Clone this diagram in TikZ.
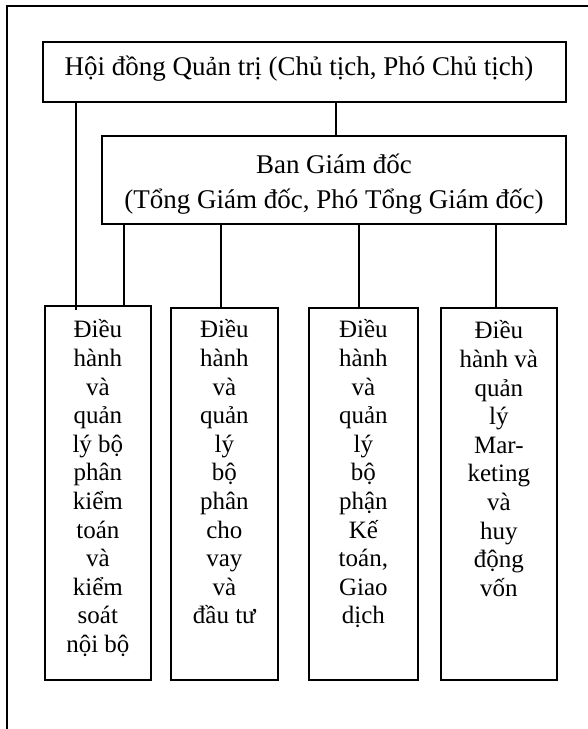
\documentclass[tikz,border=0pt]{standalone}
\usepackage{fontspec}
\setmainfont{Liberation Serif}
\newcommand\celltext[4]{%
  \parbox[c][#2][t]{#1}{\centering\fontsize{25pt}{28.6pt}\selectfont\rule{0pt}{#3}#4}}
\begin{document}
\begin{tikzpicture}[x=1pt,y=-1pt,
  frame/.style={line width=1.8pt, line cap=rect},
  box/.style={draw, line width=1.7pt, inner sep=0pt, rectangle},
  conn/.style={line width=2.6pt},
  unit/.style={box, anchor=north west}]
\useasboundingbox (0,0) rectangle (587,729);

% cell border (top and left)
\draw[frame] (7,729) -- (7,6) -- (590,6);

% board of directors
\node[box, minimum width=523pt, minimum height=60pt, text height=20pt, text depth=14pt,
      font=\fontsize{27pt}{30pt}\selectfont]
  (hdqt) at (304.5,72) {Hội đồng Quản trị (Chủ tịch, Phó Chủ tịch)\kern11pt};

% executive board
\node[box, minimum width=464pt, minimum height=88pt, align=center,
      font=\fontsize{27pt}{35pt}\selectfont]
  (bgd) at (334,180) {\rule{0pt}{29pt}Ban Giám đốc\\(Tổng Giám đốc, Phó Tổng Giám đốc)\rule[-7pt]{0pt}{7pt}};

% departments
\node[unit] (b1) at (44,305)
  {\celltext{106pt}{374pt}{32pt}{Điều\\hành\\và\\quản\\lý bộ\\phân\\kiểm\\toán\\và\\kiểm\\soát\\nội bộ}};
\node[unit] (b2) at (170,307)
  {\celltext{107pt}{372pt}{30pt}{Điều\\hành\\và\\quản\\lý\\bộ\\phân\\cho\\vay\\và\\đầu tư}};
\node[unit] (b3) at (308,307)
  {\celltext{109pt}{372pt}{30pt}{Điều\\hành\\và\\quản\\lý\\bộ\\phận\\Kế\\toán,\\Giao\\dịch}};
\node[unit] (b4) at (440,307)
  {\celltext{116pt}{372pt}{31pt}{Điều\\hành và\\quản\\lý\\Mar-\\keting\\và\\huy\\động\\vốn}};

% connector columns
\coordinate (c0) at (76,0);
\coordinate (cb) at (336,0);
\coordinate (c1) at (124,0);
\coordinate (c2) at (221,0);
\coordinate (c3) at (359,0);
\coordinate (c4) at (496,0);

\draw[conn, shorten >=-5pt] (c0 |- hdqt.south) -- (c0 |- b1.north);
\draw[conn] (cb |- hdqt.south) -- (cb |- bgd.north);
\draw[conn, shorten >=-2pt] (c1 |- bgd.south) -- (c1 |- b1.north);
\draw[conn, shorten >=-1pt] (c2 |- bgd.south) -- (c2 |- b2.north);
\draw[conn, shorten >=-1pt] (c3 |- bgd.south) -- (c3 |- b3.north);
\draw[conn, shorten >=-1pt] (c4 |- bgd.south) -- (c4 |- b4.north);
\end{tikzpicture}
\end{document}
